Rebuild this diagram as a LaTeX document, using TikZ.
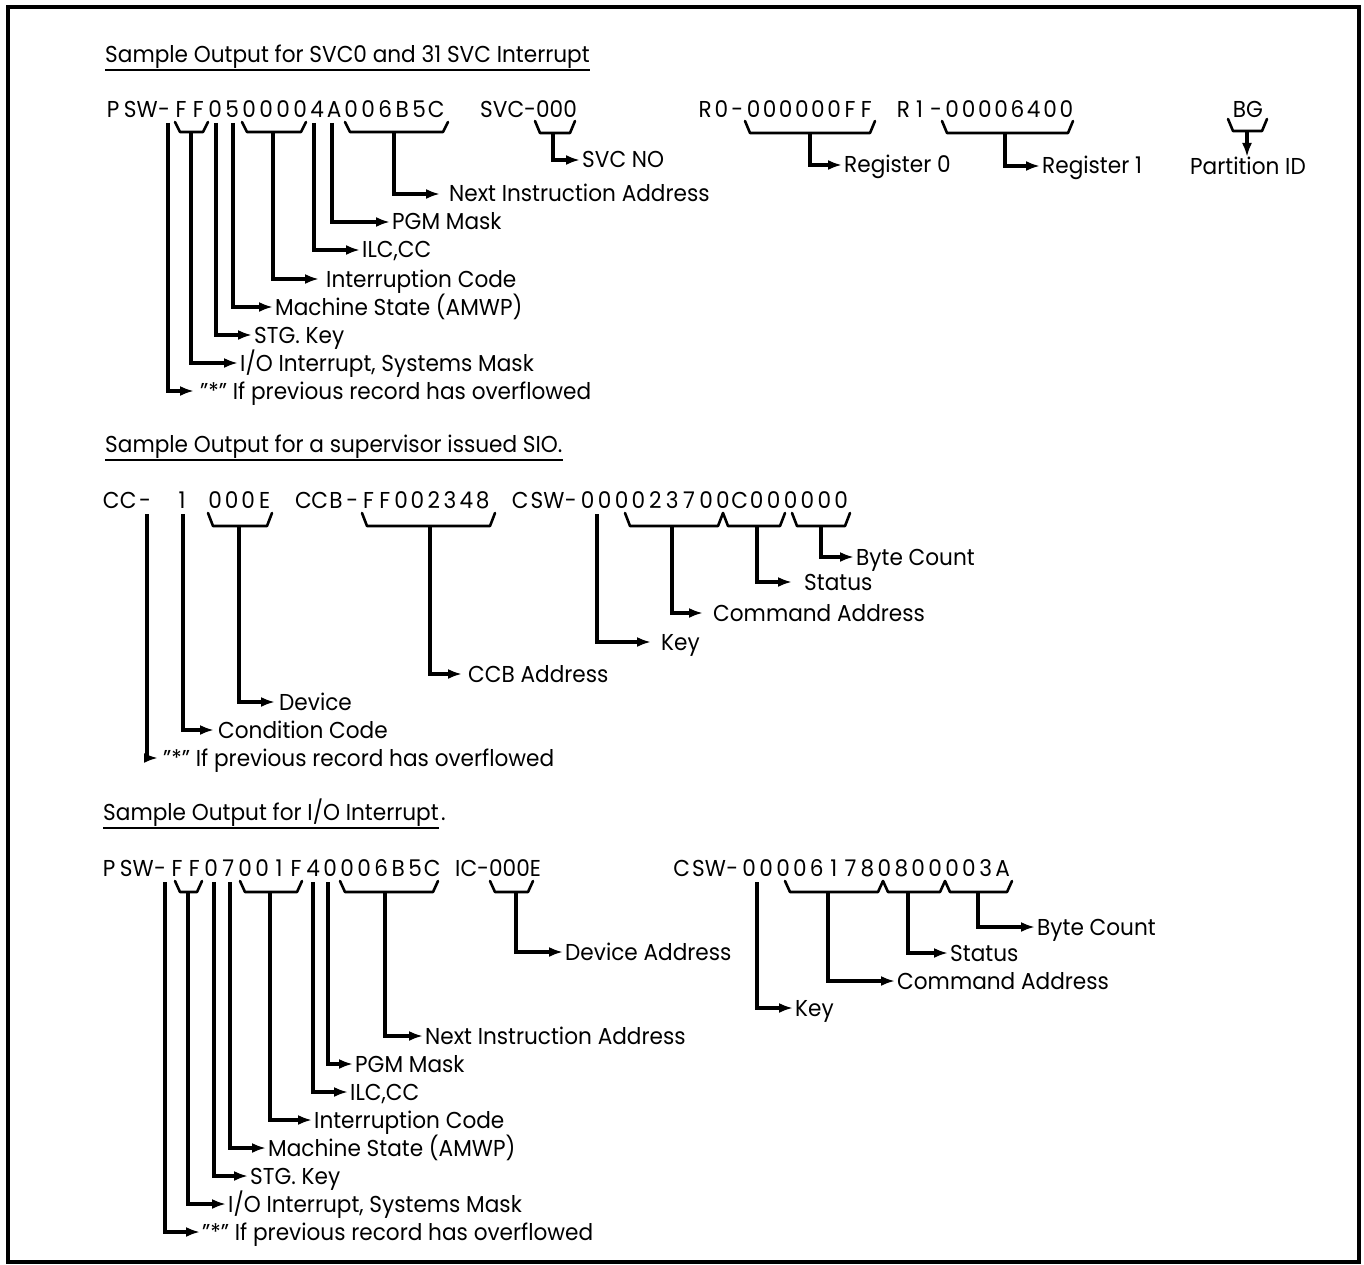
\documentclass[tikz,border=0pt]{standalone}
\usepackage{fontspec}
\setmainfont{Poppins}[FakeStretch=0.94]
\usetikzlibrary{arrows.meta,calc}

% characters set on a fixed pitch, one box per character
\makeatletter
\newlength\hx@pitch
\newcommand\pitched[2]{\setlength\hx@pitch{#1pt}\hx@loop#2\relax}
\def\hx@loop#1{\ifx#1\relax\else\makebox[\hx@pitch][c]{#1}\expandafter\hx@loop\fi}
\makeatother

\newcommand\lfont{\fontsize{23}{27}\selectfont}
% shallow bracket under a group of characters: x-left, x-right, y-top, y-bottom
\newcommand\ubrace[4]{\draw[brc] (#1,#3) -- (#1+5,#4) -- (#2-5,#4) -- (#2,#3);}

\begin{document}
\begin{tikzpicture}[x=1pt,y=-1pt,
  frame/.style={line width=4pt},
  brc/.style={line width=2.6pt,line join=round,line cap=round},
  conn/.style={line width=3.2pt,-{Latex[length=14pt,width=10pt]},shorten >=2pt},
  lab/.style={anchor=west,inner sep=0pt,text height=16pt,text depth=0pt,font=\lfont},
  hex/.style={anchor=base west,inner sep=0pt,font=\lfont},
  ttl/.style={anchor=base west,inner sep=0pt,font=\lfont},
  uline/.style={line width=2pt}]

\useasboundingbox (0,0) rectangle (1364,1265);
\draw[frame] (7.5,7.5) rectangle (1358.5,1262);

% ---------------- SVC interrupt ----------------
\node[ttl] (t1) at (105,63) {Sample Output for SVC0 and 31 SVC Interrupt};
\draw[uline] ($(t1.base west)+(0,7)$) -- ($(t1.base east)+(0,7)$);

\node[hex] (psw1) at (104.5,118) {\pitched{17}{PSW-FF0500004A006B5C}};
\node[hex] (svc) at (480,118) {SVC-000};
\node[hex] (r0) at (697,118) {\pitched{16.1}{R0-000000FF}};
\node[hex] (r1) at (895,118) {\pitched{16.3}{R1-00006400}};
\node[hex,anchor=base] (bg) at (1248,118) {BG};

\ubrace{175}{208}{122}{132}   \coordinate (s1ff) at (191,132);
\ubrace{242}{306}{122}{132}   \coordinate (s1ic) at (273,132);
\ubrace{345}{448}{122}{132}   \coordinate (s1ni) at (394,132);
\ubrace{535}{575}{121}{133}   \coordinate (s1svc) at (553,133);
\ubrace{745}{875}{121}{133}   \coordinate (s1r0) at (810,133);
\ubrace{942}{1073}{121}{133}  \coordinate (s1r1) at (1005,133);
\ubrace{1228}{1267}{119}{131} \coordinate (s1bg) at (1247,131);
\coordinate (s1d) at (168,123);
\coordinate (s1k) at (216,123);
\coordinate (s1m) at (233,123);
\coordinate (s1l) at (314,123);
\coordinate (s1p) at (332,123);

\node[lab] (nia1) at (449,194) {Next Instruction Address};
\node[lab] (pgm1) at (392,222) {PGM Mask};
\node[lab] (ilc1) at (362,250) {ILC,CC};
\node[lab] (ic1)  at (326,279) {Interruption Code};
\node[lab] (ms1)  at (275,307) {Machine State (AMWP)};
\node[lab] (stg1) at (254,335) {STG. Key};
\node[lab] (io1)  at (240,363) {I/O Interrupt, Systems Mask};
\node[lab] (ov1)  at (200,391) {"*" If previous record has overflowed};
\node[lab] (svn)  at (582,160) {SVC NO};
\node[lab] (rg0)  at (844,165) {Register 0};
\node[lab] (rg1)  at (1042,166) {Register 1};
\node[lab,anchor=north] (pid) at (1248,158) {Partition ID};

\draw[conn,shorten >=9pt] (s1ni) |- (nia1.west);
\draw[conn] (s1p) |- (pgm1.west);
\draw[conn] (s1l) |- (ilc1.west);
\draw[conn,shorten >=7pt] (s1ic) |- (ic1.west);
\draw[conn] (s1m) |- (ms1.west);
\draw[conn] (s1k) |- (stg1.west);
\draw[conn] (s1ff) |- (io1.west);
\draw[conn,shorten >=6pt] (s1d) |- (ov1.west);
\draw[conn] (s1svc) |- (svn.west);
\draw[conn] (s1r0) |- (rg0.west);
\draw[conn] (s1r1) |- (rg1.west);
\draw[conn,shorten >=1pt] (s1bg) -- (pid.north -| s1bg);

% ---------------- supervisor SIO ----------------
\node[ttl] (t2) at (105,452) {Sample Output for a supervisor issued SIO.};
\draw[uline] ($(t2.base west)+(0,8)$) -- ($(t2.base east)+(0,8)$);

\node[hex] (cc) at (102.5,508) {\pitched{17}{CC-}};
\node[hex,anchor=base] (one) at (182,508) {1};
\node[hex] (dv) at (206.7,508) {\pitched{16.5}{000E}};
\node[hex] (ccb) at (295,508) {\pitched{16.3}{CCB-FF002348}};
\node[hex] (csw2) at (511.5,508) {\pitched{16.9}{CSW-000023700C000000}};

\ubrace{208}{272}{513}{526} \coordinate (s2dv) at (239,526);
\ubrace{362}{495}{513}{526} \coordinate (s2cb) at (430,526);
\ubrace{625}{723}{513}{526} \coordinate (s2ca) at (672,526);
\ubrace{723}{785}{513}{526} \coordinate (s2st) at (757,526);
\ubrace{792}{850}{513}{526} \coordinate (s2bc) at (821,526);
\coordinate (s2d) at (147,514);
\coordinate (s2c) at (183,514);
\coordinate (s2k) at (597,514);

\node[lab] (bc2) at (856,557) {Byte Count};
\node[lab] (st2) at (804,582) {Status};
\node[lab] (ca2) at (713,613) {Command Address};
\node[lab] (ky2) at (661,642) {Key};
\node[lab] (cb2) at (468,674) {CCB Address};
\node[lab] (dv2) at (279,702) {Device};
\node[lab] (cd2) at (218,730) {Condition Code};
\node[lab] (ov2) at (163,758) {"*" If previous record has overflowed};

\draw[conn] (s2bc) |- (bc2.west);
\draw[conn,shorten >=12pt] (s2st) |- (st2.west);
\draw[conn,shorten >=10pt] (s2ca) |- (ca2.west);
\draw[conn,shorten >=10pt] (s2k) |- (ky2.west);
\draw[conn,shorten >=6pt] (s2cb) |- (cb2.west);
\draw[conn,shorten >=4pt] (s2dv) |- (dv2.west);
\draw[conn,shorten >=4pt] (s2c) |- (cd2.west);
\draw[conn,shorten >=5pt] (s2d) |- (ov2.west);

% ---------------- I/O interrupt ----------------
\node[ttl] (t3) at (103,820) {Sample Output for I/O Interrupt};
\node[ttl] (t3p) at ([xshift=2pt]t3.base east) {.};
\draw[uline] ($(t3.base west)+(0,8)$) -- ($(t3.base east)+(0,8)$);

\node[hex] (psw3) at (100.5,876) {\pitched{17}{PSW-FF07001F40006B5C}};
\node[hex] (ic) at (455,876) {IC-000E};
\node[hex] (csw3) at (673,876) {\pitched{16.9}{CSW-000061780800003A}};

\ubrace{175}{202}{881}{892} \coordinate (s3ff) at (188,892);
\ubrace{240}{302}{881}{892} \coordinate (s3ic) at (270,892);
\ubrace{340}{438}{881}{892} \coordinate (s3ni) at (385,892);
\ubrace{490}{533}{881}{892} \coordinate (s3da) at (516,892);
\ubrace{785}{883}{881}{892} \coordinate (s3ca) at (828,892);
\ubrace{883}{945}{881}{892} \coordinate (s3st) at (908,892);
\ubrace{945}{1012}{881}{892} \coordinate (s3bc) at (978,892);
\coordinate (s3d) at (165,882);
\coordinate (s3k) at (214,882);
\coordinate (s3m) at (230,882);
\coordinate (s3l) at (313,882);
\coordinate (s3p) at (328,882);
\coordinate (s3y) at (757,882);

\node[lab] (nia3) at (425,1036) {Next Instruction Address};
\node[lab] (pgm3) at (355,1064) {PGM Mask};
\node[lab] (ilc3) at (350,1092) {ILC,CC};
\node[lab] (ic3)  at (314,1120) {Interruption Code};
\node[lab] (ms3)  at (268,1148) {Machine State (AMWP)};
\node[lab] (stg3) at (250,1176) {STG. Key};
\node[lab] (io3)  at (228,1204) {I/O Interrupt, Systems Mask};
\node[lab] (ov3)  at (202,1232) {"*" If previous record has overflowed};
\node[lab] (da3)  at (565,952) {Device Address};
\node[lab] (bc3)  at (1037,927) {Byte Count};
\node[lab] (st3)  at (950,953) {Status};
\node[lab] (ca3)  at (897,981) {Command Address};
\node[lab] (ky3)  at (795,1008) {Key};

\draw[conn] (s3ni) |- (nia3.west);
\draw[conn] (s3p) |- (pgm3.west);
\draw[conn] (s3l) |- (ilc3.west);
\draw[conn] (s3ic) |- (ic3.west);
\draw[conn] (s3m) |- (ms3.west);
\draw[conn] (s3k) |- (stg3.west);
\draw[conn] (s3ff) |- (io3.west);
\draw[conn] (s3d) |- (ov3.west);
\draw[conn] (s3da) |- (da3.west);
\draw[conn] (s3bc) |- (bc3.west);
\draw[conn] (s3st) |- (st3.west);
\draw[conn] (s3ca) |- (ca3.west);
\draw[conn] (s3y) |- (ky3.west);
\end{tikzpicture}
\end{document}
